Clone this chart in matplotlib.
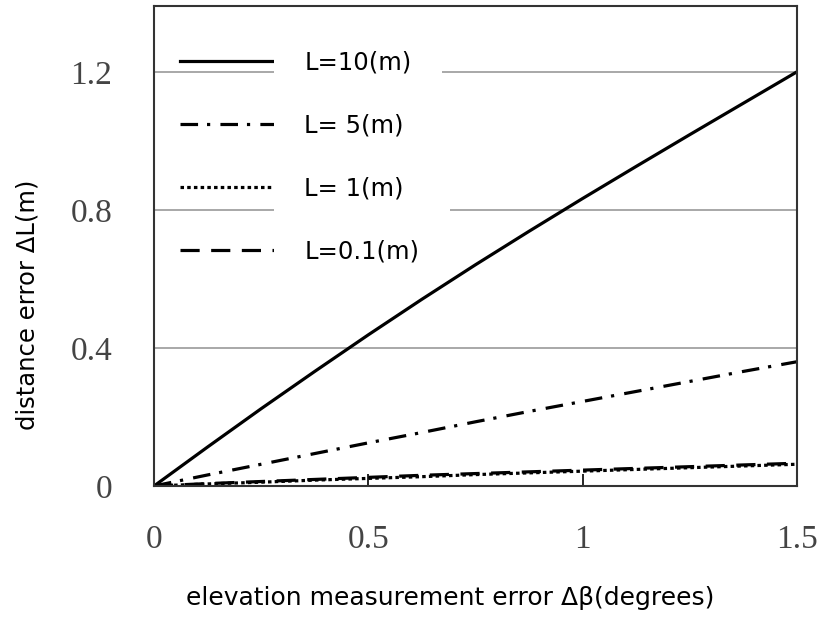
import matplotlib
matplotlib.use("Agg")
import matplotlib.pyplot as plt

# elevation error (degrees)
x_deg = [0, 0.125, 0.25, 0.375, 0.5, 0.625, 0.75, 0.875, 1.0, 1.125, 1.25, 1.375, 1.5]

# distance error for each range L
err_L10 = [0, 0.113, 0.224, 0.332, 0.438, 0.541, 0.641, 0.738, 0.833, 0.926, 1.018, 1.109, 1.2]
err_L5 = [0, 0.032, 0.063, 0.094, 0.125, 0.155, 0.186, 0.216, 0.245, 0.274, 0.303, 0.332, 0.36]
err_L1 = [0, 0.006, 0.011, 0.017, 0.022, 0.027, 0.033, 0.038, 0.043, 0.048, 0.053, 0.058, 0.063]
err_L01 = [0, 0.007, 0.013, 0.019, 0.025, 0.031, 0.036, 0.041, 0.046, 0.051, 0.056, 0.061, 0.066]

labels = ["L=10(m)", "L= 5(m)", "L= 1(m)", "L=0.1(m)"]
xticks = [0, 0.5, 1, 1.5]
yticks = [0, 0.4, 0.8, 1.2]
ytick_labels = ["0", "0.4", "0.8", "1.2"]
xtick_labels = ["0", "0.5", "1", "1.5"]

fig = plt.figure(figsize=(8.21, 6.18), dpi=100)
ax = fig.add_axes([0.1876, 0.2136, 0.7832, 0.7764])

lw = 2.3
ax.plot(x_deg, err_L10, color="black", lw=lw, linestyle="-", label=labels[0])
ax.plot(x_deg, err_L5, color="black", lw=lw, linestyle=(0, (5.5, 2.8, 1, 3.2)), label=labels[1])
ax.plot(x_deg, err_L1, color="black", lw=lw, linestyle=(0, (1.1, 1.0)), label=labels[2])
ax.plot(x_deg, err_L01, color="black", lw=lw, linestyle=(0, (6, 3.6)), label=labels[3])

ax.set_xlim(0, 1.5)
ax.set_ylim(0, 1.39)
ax.set_xticks(xticks)
ax.set_xticklabels(xtick_labels)
ax.set_yticks(yticks)
ax.set_yticklabels(ytick_labels)

ax.yaxis.grid(True, color="#9a9a9a", lw=1.2, zorder=0)
ax.set_axisbelow(True)
for s in ax.spines.values():
    s.set_linewidth(1.5)
    s.set_color("#333333")

ax.tick_params(axis="x", direction="in", length=9, width=1.2, pad=28)
ax.tick_params(axis="y", direction="in", length=0, pad=30)
for t in ax.get_xticklabels() + ax.get_yticklabels():
    t.set_fontfamily("Liberation Serif")
    t.set_fontsize(24)
    t.set_color("#444444")

ax.set_xlabel("elevation measurement error Δβ(degrees)", fontsize=18,
              fontfamily="DejaVu Sans", labelpad=22, x=0.46)
ax.set_ylabel("distance error ΔL(m)", fontsize=17.5,
              fontfamily="DejaVu Sans", labelpad=22, y=0.377)

leg = ax.legend(loc="upper left", bbox_to_anchor=(0.007, 0.9525), frameon=False,
                prop={"family": "DejaVu Sans", "size": 17.5},
                handlelength=3.9, handletextpad=1.2, labelspacing=1.6)
leg.set_zorder(1.5)
for t in leg.get_texts():
    t.set_bbox(dict(facecolor="white", edgecolor="none", pad=22))

fig.savefig("out.png", dpi=100)
